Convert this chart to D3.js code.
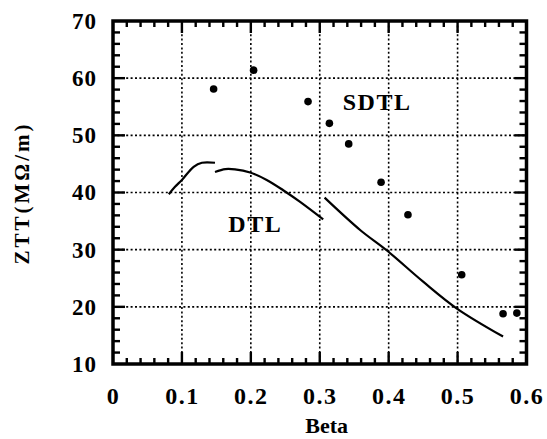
<!DOCTYPE html>
<html>
<head>
<meta charset="utf-8">
<script src="https://cdn.jsdelivr.net/npm/d3@7"></script>
<style>
  body { margin: 0; background: #fff; }
  svg text { font-family: "Liberation Serif", "Times New Roman", serif; font-weight: bold; fill: #000; }
</style>
</head>
<body>
<div id="chart"></div>
<script>
// SDTL measured points (beta, ZTT)
const sdtlBeta = [0.146, 0.204, 0.283, 0.314, 0.342, 0.389, 0.428, 0.506, 0.566, 0.586];
const sdtlZtt  = [58.1, 61.4, 55.9, 52.1, 48.5, 41.8, 36.1, 25.6, 18.8, 18.9];

// DTL curves, three separate tanks
const dtl1Beta = [0.081, 0.090, 0.100, 0.117, 0.129, 0.148];
const dtl1Ztt  = [39.7, 41.0, 42.2, 44.5, 45.2, 45.2];
const dtl2Beta = [0.148, 0.163, 0.177, 0.199, 0.223, 0.247, 0.271, 0.305];
const dtl2Ztt  = [43.6, 44.1, 44.05, 43.5, 42.2, 40.4, 38.4, 35.3];
const dtl3Beta = [0.307, 0.359, 0.397, 0.450, 0.499, 0.566];
const dtl3Ztt  = [39.1, 33.4, 29.9, 24.4, 19.7, 14.8];

const xTicks = [0, 0.1, 0.2, 0.3, 0.4, 0.5, 0.6];
const yTicks = [10, 20, 30, 40, 50, 60, 70];

const width = 547, height = 439;
const margin = { top: 21, right: 20.5, bottom: 75, left: 113 };
const innerW = width - margin.left - margin.right;
const innerH = height - margin.top - margin.bottom;

const svg = d3.select("#chart").append("svg")
    .attr("width", width).attr("height", height);
const g = svg.append("g").attr("transform", `translate(${margin.left},${margin.top})`);

const x = d3.scaleLinear().domain([0, 0.6]).range([0, innerW]);
const y = d3.scaleLinear().domain([10, 70]).range([innerH, 0]);

// dotted grid
g.selectAll("line.gx").data(xTicks.slice(1, -1)).join("line").attr("class", "gx")
    .attr("x1", d => x(d)).attr("x2", d => x(d)).attr("y1", 0).attr("y2", innerH)
    .attr("stroke", "#000").attr("stroke-width", 1.6).attr("stroke-dasharray", "2,2.4");
g.selectAll("line.gy").data(yTicks.slice(1, -1)).join("line").attr("class", "gy")
    .attr("y1", d => y(d)).attr("y2", d => y(d)).attr("x1", 0).attr("x2", innerW)
    .attr("stroke", "#000").attr("stroke-width", 1.6).attr("stroke-dasharray", "2,2.4");

// inward ticks on all four sides (minor every 0.02 / 2, major at labels), as filled bars
const xMinor = d3.range(1, 30).map(i => i * 0.02);
const yMinor = d3.range(1, 30).map(i => 10 + i * 2);
const xLen = d => Math.abs(d * 10 - Math.round(d * 10)) < 1e-6 ? 12 : 6;
const yLen = d => d % 10 === 0 ? 12 : 7;
const tk = g.append("g").attr("fill", "#000");
tk.selectAll("rect.xb").data(xMinor).join("rect").attr("class", "xb")
    .attr("x", d => x(d) - 1.2).attr("y", d => innerH - xLen(d)).attr("width", 2.4).attr("height", d => xLen(d));
tk.selectAll("rect.xt").data(xMinor).join("rect").attr("class", "xt")
    .attr("x", d => x(d) - 1.2).attr("y", 0).attr("width", 2.4).attr("height", d => xLen(d));
tk.selectAll("rect.yl").data(yMinor).join("rect").attr("class", "yl")
    .attr("x", 0).attr("y", d => y(d) - 1.2).attr("width", d => yLen(d)).attr("height", 2.4);
tk.selectAll("rect.yr").data(yMinor).join("rect").attr("class", "yr")
    .attr("x", d => innerW - yLen(d)).attr("y", d => y(d) - 1.2).attr("width", d => yLen(d)).attr("height", 2.4);

// frame
g.append("rect").attr("width", innerW).attr("height", innerH)
    .attr("fill", "none").attr("stroke", "#000").attr("stroke-width", 3.5);

// tick labels
g.append("g").attr("transform", `translate(0,${innerH})`)
    .call(d3.axisBottom(x).tickValues(xTicks).tickSize(0).tickPadding(23).tickFormat(d => d === 0 ? "0" : d3.format(".1f")(d)))
    .call(a => a.select(".domain").remove())
    .selectAll("text").style("font-size", "24px").style("letter-spacing", "1.5px");
g.append("g")
    .call(d3.axisLeft(y).tickValues(yTicks).tickSize(0).tickPadding(16))
    .call(a => a.select(".domain").remove())
    .selectAll("text").style("font-size", "23px").style("letter-spacing", "1px");
g.selectAll(".tick text").style("font-family", "'Liberation Serif', serif")
    .style("font-weight", "bold");

// axis titles
svg.append("text").attr("x", margin.left + x(0.31)).attr("y", 433)
    .attr("text-anchor", "middle").style("font-size", "22px").text("Beta");
svg.append("text").attr("transform", "translate(29,193) rotate(-90)")
    .attr("text-anchor", "middle").style("font-size", "21px").style("letter-spacing", "3px")
    .text("ZTT(MΩ/m)");

// DTL curves
const line = d3.line().x(d => x(d[0])).y(d => y(d[1])).curve(d3.curveCatmullRom);
[[dtl1Beta, dtl1Ztt], [dtl2Beta, dtl2Ztt], [dtl3Beta, dtl3Ztt]].forEach(([bs, zs]) => {
  g.append("path").datum(bs.map((b, i) => [b, zs[i]]))
    .attr("d", line).attr("fill", "none").attr("stroke", "#000").attr("stroke-width", 2.2);
});

// SDTL points
g.selectAll("circle.sdtl").data(sdtlBeta.map((b, i) => [b, sdtlZtt[i]])).join("circle")
    .attr("class", "sdtl").attr("cx", d => x(d[0])).attr("cy", d => y(d[1])).attr("r", 3.8)
    .attr("fill", "#000");

// curve labels
g.append("text").attr("x", x(0.3334)).attr("y", y(54.4)).style("font-size", "24px")
    .style("letter-spacing", "1.5px").text("SDTL");
g.append("text").attr("x", x(0.1673)).attr("y", y(33.1)).style("font-size", "24px")
    .style("letter-spacing", "1.5px").text("DTL");
</script>
</body>
</html>
